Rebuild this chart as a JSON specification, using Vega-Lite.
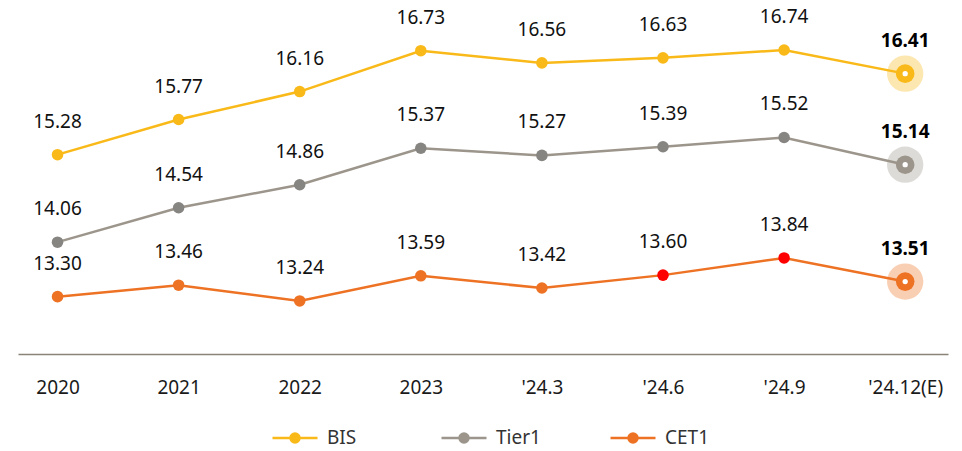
{
  "$schema": "https://vega.github.io/schema/vega-lite/v6.json",
  "width": 930,
  "height": 337,
  "autosize": {"type": "none"},
  "padding": {"left": 18, "top": 17, "right": 14, "bottom": 97},
  "background": "white",
  "config": {
    "view": {"stroke": null},
    "font": "Noto Sans",
    "text": {"font": "Noto Sans"}
  },
  "data": {
    "values": [
      {"period": "2020", "series": "BIS", "value": 15.28},
      {"period": "2021", "series": "BIS", "value": 15.77},
      {"period": "2022", "series": "BIS", "value": 16.16},
      {"period": "2023", "series": "BIS", "value": 16.73},
      {"period": "'24.3", "series": "BIS", "value": 16.56},
      {"period": "'24.6", "series": "BIS", "value": 16.63},
      {"period": "'24.9", "series": "BIS", "value": 16.74},
      {"period": "'24.12(E)", "series": "BIS", "value": 16.41},
      {"period": "2020", "series": "Tier1", "value": 14.06},
      {"period": "2021", "series": "Tier1", "value": 14.54},
      {"period": "2022", "series": "Tier1", "value": 14.86},
      {"period": "2023", "series": "Tier1", "value": 15.37},
      {"period": "'24.3", "series": "Tier1", "value": 15.27},
      {"period": "'24.6", "series": "Tier1", "value": 15.39},
      {"period": "'24.9", "series": "Tier1", "value": 15.52},
      {"period": "'24.12(E)", "series": "Tier1", "value": 15.14},
      {"period": "2020", "series": "CET1", "value": 13.30},
      {"period": "2021", "series": "CET1", "value": 13.46},
      {"period": "2022", "series": "CET1", "value": 13.24},
      {"period": "2023", "series": "CET1", "value": 13.59},
      {"period": "'24.3", "series": "CET1", "value": 13.42},
      {"period": "'24.6", "series": "CET1", "value": 13.60},
      {"period": "'24.9", "series": "CET1", "value": 13.84},
      {"period": "'24.12(E)", "series": "CET1", "value": 13.51}
    ]
  },
  "encoding": {
    "x": {
      "field": "period",
      "type": "ordinal",
      "sort": ["2020", "2021", "2022", "2023", "'24.3", "'24.6", "'24.9", "'24.12(E)"],
      "scale": {"type": "point", "padding": 0.34, "align": 0.48},
      "axis": {
        "title": null,
        "labelAngle": 0,
        "ticks": false,
        "grid": false,
        "domainColor": "#8a8478",
        "domainWidth": 1.5,
        "labelPadding": 24,
        "labelFont": "Noto Sans",
        "labelFontSize": 19,
        "labelColor": "#1a1a1a"
      }
    },
    "y": {
      "field": "value",
      "type": "quantitative",
      "scale": {"domain": [12.5, 17.2], "nice": false, "zero": false},
      "axis": null
    }
  },
  "layer": [
    {
      "transform": [{"filter": "datum.period == \"'24.12(E)\""}],
      "mark": {"type": "point", "filled": true, "size": 1320, "opacity": 0.34},
      "encoding": {
        "color": {"field": "series", "type": "nominal"}
      }
    },
    {
      "mark": {"type": "line", "strokeWidth": 2.5},
      "encoding": {
        "color": {
          "field": "series",
          "type": "nominal",
          "scale": {"domain": ["BIS", "Tier1", "CET1"], "range": ["#F9B918", "#9C958B", "#EE7224"]},
          "legend": {
            "title": null,
            "orient": "none",
            "legendX": 253,
            "legendY": 397,
            "direction": "horizontal",
            "columns": 3,
            "gridAlign": "all",
            "columnPadding": 64,
            "symbolType": "M-1,0L1,0M0.2,0A0.2,0.2,0,1,1,-0.2,0A0.2,0.2,0,1,1,0.2,0Z",
            "symbolSize": 2025,
            "symbolStrokeWidth": 2.5,
            "labelFont": "Noto Sans",
            "labelFontSize": 19,
            "labelColor": "#333333",
            "labelOffset": 8,
            "encode": {
              "symbols": {
                "update": {
                  "fill": {"scale": "color", "field": "value"},
                  "stroke": {"scale": "color", "field": "value"},
                  "opacity": {"value": 1}
                }
              }
            }
          }
        }
      }
    },
    {
      "transform": [{"filter": "datum.period != \"'24.12(E)\""}],
      "mark": {"type": "point", "filled": true, "size": 133, "opacity": 1},
      "encoding": {
        "color": {
          "condition": [
            {"test": "datum.series == 'CET1' && (datum.period == \"'24.6\" || datum.period == \"'24.9\")", "value": "#FF0000"},
            {"test": "datum.series == 'Tier1'", "value": "#878581"}
          ],
          "field": "series",
          "type": "nominal"
        }
      }
    },
    {
      "transform": [{"filter": "datum.period == \"'24.12(E)\""}],
      "mark": {"type": "point", "filled": true, "size": 346, "opacity": 1},
      "encoding": {
        "color": {"field": "series", "type": "nominal"}
      }
    },
    {
      "transform": [{"filter": "datum.period == \"'24.12(E)\""}],
      "mark": {"type": "point", "filled": true, "size": 28, "opacity": 1, "color": "white"}
    },
    {
      "transform": [{"filter": "datum.period != \"'24.12(E)\""}],
      "mark": {"type": "text", "dy": -27, "baseline": "alphabetic", "align": "center", "fontSize": 19, "font": "Noto Sans", "color": "#111111"},
      "encoding": {
        "text": {"field": "value", "type": "quantitative", "format": ".2f"}
      }
    },
    {
      "transform": [{"filter": "datum.period == \"'24.12(E)\""}],
      "mark": {"type": "text", "dy": -27, "baseline": "alphabetic", "align": "center", "fontSize": 19, "fontWeight": "bold", "font": "Noto Sans", "color": "#000000"},
      "encoding": {
        "text": {"field": "value", "type": "quantitative", "format": ".2f"}
      }
    }
  ]
}
